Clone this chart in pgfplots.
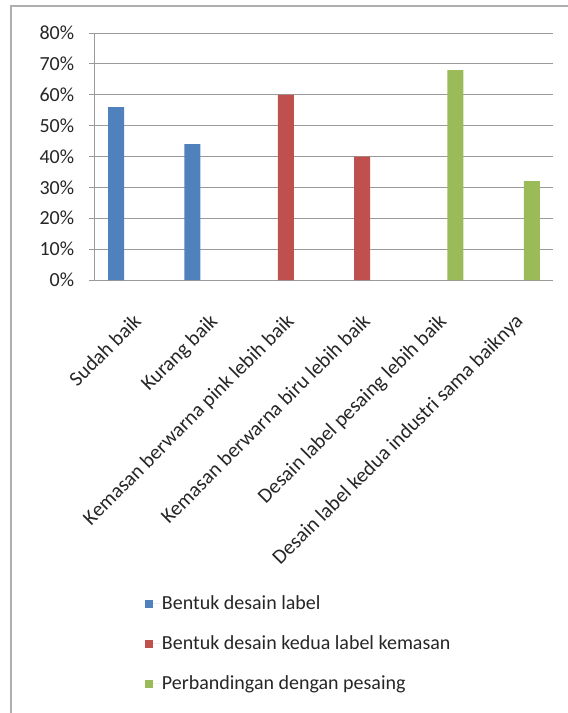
\documentclass[border=0pt]{standalone}
\usepackage{fontspec}
\setmainfont{Carlito}
\usepackage{pgfplots}
\pgfplotsset{compat=1.18}
\definecolor{cblue}{HTML}{4F81BD}
\definecolor{cred}{HTML}{C0504D}
\definecolor{cgreen}{HTML}{9BBB59}
\definecolor{cgrid}{HTML}{9A9A9A}
\begin{document}
\fontsize{20}{24}\selectfont
\begin{tikzpicture}
\useasboundingbox (0pt,0pt) rectangle (568pt,713pt);
\draw[cgrid!80, line width=1.4pt] (11pt,0pt) -- (11pt,707pt) -- (568pt,707pt);
\begin{axis}[
  at={(95pt,433pt)}, anchor=south west,
  scale only axis, width=458pt, height=247pt,
  ymin=0, ymax=80, xmin=-0.5, xmax=5.5,
  axis x line*=bottom, axis y line*=left,
  axis line style={cgrid, line width=1pt},
  ytick={0,10,...,80},
  yticklabels={0\%,10\%,20\%,30\%,40\%,50\%,60\%,70\%,80\%},
  ymajorgrids, grid style={cgrid, line width=1pt},
  y tick style={cgrid, line width=1pt}, tick align=outside,
  major tick length=6pt,
  xtick={0,1,2,3,4,5},
  x tick style={draw=none},
  minor xtick={-0.5,0.5,1.5,2.5,3.5,4.5,5.5},
  minor x tick style={cgrid, line width=1pt},
  minor tick length=6pt,
  xticklabels={Sudah baik, Kurang baik, Kemasan berwarna pink lebih baik, Kemasan berwarna biru lebih baik, Desain label pesaing lebih baik, Desain label kedua industri sama baiknya},
  xticklabel style={xshift=-1pt, yshift=-26pt, rotate=45, anchor=north east, font=\fontsize{20.7}{24}\selectfont, text=black!85, inner sep=0pt},
  yticklabel style={font=\fontsize{20}{24}\selectfont, text=black!85, xshift=-8pt},
  /pgf/number format/assume math mode=true,
  ybar, bar width=16pt,
  legend style={at={(axis description cs:0.102,-1.26)}, anchor=north west, draw=none, fill=none,
    font=\fontsize{20}{24}\selectfont, text=black!85, row sep=19pt},
  legend cell align=left,
  legend image code/.code={\fill[#1] (0pt,-4pt) rectangle (8pt,4pt); \path (0pt,0pt) -- (15pt,0pt);},
]
\addplot[fill=cblue, draw=none, bar shift=-17pt] coordinates {(0,56) (1,44)};
\addplot[fill=cred, draw=none, bar shift=0pt] coordinates {(2,60) (3,40)};
\addplot[fill=cgreen, draw=none, bar shift=17pt] coordinates {(4,68) (5,32)};
\legend{Bentuk desain label, Bentuk desain kedua label kemasan, Perbandingan dengan pesaing}
\end{axis}
\end{tikzpicture}
\end{document}
